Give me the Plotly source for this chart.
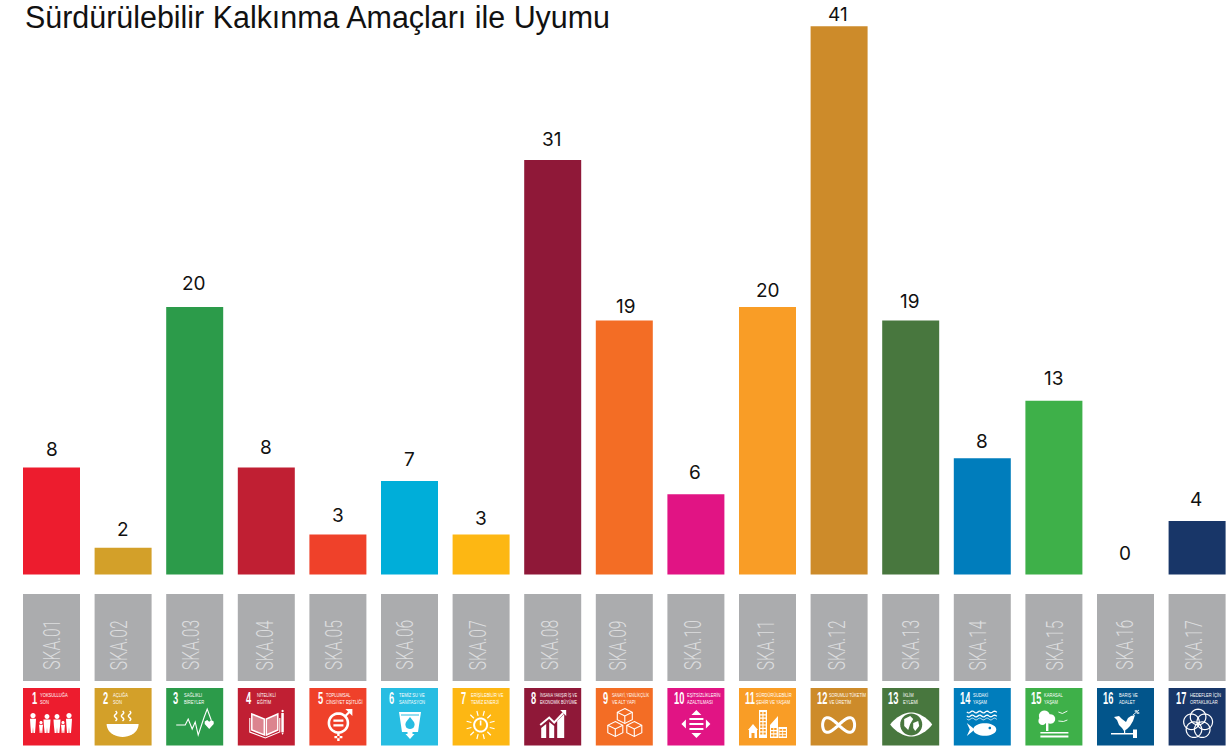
import math
import plotly.graph_objects as go

TITLE = "Sürdürülebilir Kalkınma Amaçları ile Uyumu"
categories = ["SKA.%02d" % i for i in range(1, 18)]
values = [8, 2, 20, 8, 3, 7, 3, 31, 19, 6, 20, 41, 19, 8.7, 13, 0, 4]
labels = ["8", "2", "20", "8", "3", "7", "3", "31", "19", "6", "20", "41", "19", "8", "13", "0", "4"]
label_gaps = [18, 18, 24, 20, 19, 21, 16, 21, 14, 22, 17, 12, 19, 17, 22, 21, 22]
label_shift = [0, 0, -1, 0, 0, 0, 0, -1, 2, -0.5, 0, -1, -1, 0, 0, -1, -1]
bar_colors = ["#ED1C2E", "#D3A029", "#2C9B4A", "#C01F33", "#EF412A", "#00AED9", "#FDB713", "#8F1838", "#F36D25",
              "#E11484", "#F99D26", "#CD8B2A", "#48773E", "#007DBC", "#3EB049", "#02558B", "#183668"]
tile_colors = list(bar_colors)
tile_colors[5] = "#27BDE2"
tile_line1 = ["YOKSULLUĞA", "AÇLIĞA", "SAĞLIKLI", "NİTELİKLİ", "TOPLUMSAL", "TEMİZ SU VE", "ERİŞİLEBİLİR VE",
              "İNSANA YAKIŞIR İŞ VE", "SANAYİ, YENİLİKÇİLİK", "EŞİTSİZLİKLERİN", "SÜRDÜRÜLEBİLİR", "SORUMLU TÜKETİM",
              "İKLİM", "SUDAKİ", "KARASAL", "BARIŞ VE", "HEDEFLER İÇİN"]
tile_line2 = ["SON", "SON", "BİREYLER", "EĞİTİM", "CİNSİYET EŞİTLİĞİ", "SANİTASYON", "TEMİZ ENERJİ",
              "EKONOMİK BÜYÜME", "VE ALT YAPI", "AZALTILMASI", "ŞEHİR VE YAŞAM", "VE ÜRETİM",
              "EYLEMİ", "YAŞAM", "YAŞAM", "ADALET", "ORTAKLIKLAR"]
number_x = [7, 6, 5, 6, 7, 6, 6, 5, 5, 5, 4, 4, 4, 4, 4, 4, 5]
text_x = [15, 16, 16, 17, 15, 16, 16, 14, 14, 18, 15, 16, 19, 17, 17, 20, 19]
grey_text_shift = [0, -4, -4, -1, -4, -5, -3, -3, -6, -3, -1.5, -2, 0, -4, 1.5, -1, -3]

W, H = 1226, 747
STEP = 71.6
X0 = 51.5
PX_PER_UNIT = 13.37
BASE_PX = 574.5
SANS = "Liberation Sans"


def paper(py):
    return 1 - py / H


shapes = []


def poly(pts, close=True):
    d = "M" + " L".join("%.2f,%.2f" % (x - 28.5, -y) for x, y in pts)
    return d + (" Z" if close else "")


def circ(cx, cy, rx, ry=None, n=36):
    ry = rx if ry is None else ry
    return [(cx + rx * math.cos(2 * math.pi * k / n), cy + ry * math.sin(2 * math.pi * k / n)) for k in range(n)]


def rect(x0, y0, x1, y1):
    return [(x0, y0), (x1, y0), (x1, y1), (x0, y1)]


def fill(*polys):
    return ("f", " ".join(poly(p) for p in polys))


def stroke(pts, w=1.5, close=False):
    return ("s", poly(pts, close), w)


def person(x, top, h, w):
    r = h * 0.13
    return [fill(circ(x, top + r, r, n=16),
                 [(x - w / 2, top + 2 * r + .6), (x + w / 2, top + 2 * r + .6), (x + w / 2 - .4, top + h * .62),
                  (x + w / 3, top + h), (x + .4, top + h), (x, top + h * .7), (x - .4, top + h), (x - w / 3, top + h), (x - w / 2 + .4, top + h * .62)])]


def wavy(x, y0, y1, amp=1.2):
    return [(x + amp * math.sin((y - y0) * 0.95), y) for y in [y0 + (y1 - y0) * k / 16 for k in range(17)]]


def hline_wave(x0, x1, y, amp=.9):
    return [(x, y + amp * math.sin((x - x0) * 0.85)) for x in [x0 + (x1 - x0) * k / 40 for k in range(41)]]


def cube(cx, cy, s):
    hexa = [(cx, cy - s), (cx + s, cy - s / 2), (cx + s, cy + s / 2), (cx, cy + s), (cx - s, cy + s / 2), (cx - s, cy - s / 2)]
    return [stroke(hexa, 1.1, True), stroke([(cx - s, cy - s / 2), (cx, cy), (cx + s, cy - s / 2)], 1.1), stroke([(cx, cy), (cx, cy + s)], 1.1)]


def grid_holes(x0, y0, cols, rows, w, h, gx, gy):
    return [rect(x0 + c * gx, y0 + r * gy, x0 + c * gx + w, y0 + r * gy + h) for c in range(cols) for r in range(rows)]


def ring(cx, cy, r, w):
    return [stroke(circ(cx, cy, r), w, True)]


def icon(i):
    if i == 0:
        return (person(10, 25, 20, 6) + person(18, 33, 12, 4) + person(24, 26, 19, 7) +
                person(34, 26, 19, 7) + person(40, 33, 12, 4) + person(46, 25, 20, 6))
    if i == 1:
        bowl = [(12, 36), (44, 36)] + [(28 + 16 * math.cos(t / 20 * math.pi), 36 + 13 * math.sin(t / 20 * math.pi)) for t in range(1, 20)]
        return [fill(bowl), stroke(wavy(21, 23, 33), 1.4), stroke(wavy(28, 23, 33), 1.4), stroke(wavy(35, 23, 33), 1.4)]
    if i == 2:
        heart = [(43, 41), (38.5, 36), (38.5, 33.5), (41, 32), (43, 33.8), (45, 32), (47.5, 33.5), (47.5, 36)]
        return [stroke([(10, 37), (19, 37), (22, 31), (26, 41), (29, 34), (32, 47), (38, 29), (41, 21), (45, 32)], 1.1), fill(heart)]
    if i == 3:
        return [("p", poly([(14, 26), (26.5, 31), (26.5, 47), (14, 42)])), ("p", poly([(40, 26), (28.5, 31), (28.5, 47), (40, 42)])),
                stroke([(14, 26), (26.5, 31), (26.5, 47), (14, 42)], 1.5, True), stroke([(40, 26), (28.5, 31), (28.5, 47), (40, 42)], 1.5, True),
                stroke([(12, 30), (12, 44), (27.5, 50), (42, 44), (42, 30)], 1.1), fill(rect(43.5, 25, 46, 44), [(43.5, 44.5), (46, 44.5), (44.8, 47)]), fill(circ(44.8, 23, 1.2, n=12))]
    if i == 4:
        return ring(29, 35, 9.5, 2.6) + [fill(rect(24, 31.5, 34, 33.8), rect(24, 36.2, 34, 38.5), rect(27.8, 45, 30.2, 53), rect(25, 48, 33, 50.2)),
                                        stroke([(35, 29), (41, 23)], 2.2), fill([(36, 21), (43, 21), (43, 28)])]
    if i == 5:
        glass = [(18, 24), (40, 24), (37, 44), (31.5, 44), (31.5, 46), (33.5, 46), (29, 51), (24.5, 46), (26.5, 46), (26.5, 44), (21, 44)]
        drop = [(29, 29)] + [(29 + 4.6 * math.cos(t / 10 * math.pi), 36.5 + 4.6 * math.sin(t / 10 * math.pi)) for t in range(-2, 13)]
        return [fill(glass), ("c", poly(drop)), ("c", poly(rect(20, 26.5, 38, 27.5)))]
    if i == 6:
        cx, cy = 28, 37
        out = []
        for k in range(12):
            t = k * math.pi / 6 + math.pi / 12
            out.append(stroke([(cx + 9.5 * math.cos(t), cy + 9.5 * math.sin(t)), (cx + 14.5 * math.cos(t), cy + 14.5 * math.sin(t))], 1.2))
        out += ring(cx, cy, 6.5, 2)
        out += [fill(rect(27.2, 32.5, 28.8, 37.5))]
        return out
    if i == 7:
        return [fill([(17, 40), (22, 36), (22, 50), (17, 50)], [(25, 34), (30, 38), (30, 50), (25, 50)], [(33, 33), (40, 26), (40, 50), (33, 50)]),
                stroke([(16, 37), (25, 29.5), (30, 34.5), (39, 25)], 2), fill([(36, 22), (42, 22), (42, 28)])]
    if i == 8:
        return cube(29, 28, 7.5) + cube(19.5, 41, 7.5) + cube(38.5, 41, 7.5)
    if i == 9:
        return [fill([(29, 22), (34, 27), (24, 27)], [(29, 50), (34, 45), (24, 45)], [(14, 36), (18.5, 31.5), (18.5, 40.5)], [(43, 36), (38.5, 31.5), (38.5, 40.5)],
                     rect(22, 30, 36, 32), rect(22, 35, 36, 37), rect(22, 40, 36, 42))]
    if i == 10:
        tall = [rect(20, 22, 28, 50)] + grid_holes(21.2, 24, 2, 7, 2.2, 2.2, 3.3, 3.4)
        tri = [[(31, 50), (31, 37), (39, 28), (39, 50)]] + grid_holes(32, 40, 2, 3, 2.4, 2, 3.2, 3.2)
        low = [rect(39.5, 39, 48, 50)] + grid_holes(40.5, 41, 2, 3, 2.8, 1.8, 3.6, 2.9)
        house = [[(9, 42), (14, 36), (19, 42), (18, 42), (18, 50), (15.5, 50), (15.5, 45), (12.5, 45), (12.5, 50), (10, 50), (10, 42)]]
        return [fill(*tall), fill(*tri), fill(*low), fill(*house)]
    if i == 11:
        pts = [(28 + 16 * math.cos(k * math.pi / 30), 37 + 14 * math.sin(k * math.pi / 30) * math.cos(k * math.pi / 30) * 1.05) for k in range(60)]
        return [stroke(pts, 3, True)]
    if i == 12:
        top = [(8 + 42 * k / 24, 36.5 - 12 * math.sin(math.pi * k / 24) ** .8) for k in range(25)]
        bot = [(50 - 42 * k / 24, 36.5 + 12 * math.sin(math.pi * k / 24) ** .8) for k in range(1, 24)]
        return [fill(top + bot), ("c", poly(circ(29, 36.5, 11))),
                fill([(22, 31), (28, 28), (31, 31), (28, 36), (26, 42), (22, 38)], [(31, 35), (36, 33), (37, 38), (33, 43), (31, 40)])]
    if i == 13:
        body = circ(31, 41.5, 11.5, 6.3)
        tail = [(13, 35), (21, 41.5), (13, 48), (16, 41.5)]
        return [stroke(hline_wave(13, 43, 24), 1.3), stroke(hline_wave(13, 43, 28), 1.3), stroke(hline_wave(13, 43, 31), .8),
                fill(body, circ(36, 40, 1.3, n=12)), fill(tail)]
    if i == 14:
        return [fill(circ(19, 28, 5.5, n=20)), fill(circ(25, 31, 4.8, n=20)), fill(circ(17, 33, 4, n=16)), fill(rect(20.6, 33, 23, 43)),
                fill(rect(15, 44, 43, 45.5), rect(15, 47.5, 43, 49.5)),
                stroke([(33, 24), (37, 25.5), (42, 23)], .9), stroke([(33, 33), (38, 33.5), (42, 32)], .9)]
    if i == 15:
        dove = [(17, 29), (22, 28), (25, 31), (29, 34), (31, 30), (34, 28), (38, 27), (36, 33), (33, 38), (30, 41), (27, 43), (25, 40), (22, 37), (20, 32)]
        return [fill(dove), stroke([(36, 27), (42, 22)], .9), fill(circ(39, 23, 1.6, .8, n=8), circ(41, 25, 1.6, .8, n=8)),
                fill(rect(14, 45, 36, 46.4), rect(36, 41.5, 40, 50), rect(27, 42, 28.2, 45))]
    R = 7.8
    out = []
    for k in range(5):
        t = -math.pi / 2 + k * 2 * math.pi / 5
        out += ring(29.5 + 7 * math.cos(t), 36 + 7 * math.sin(t), R, 1.2)
    return out


annotations = [dict(text=TITLE, x=0, y=paper(17.8), xref="paper", yref="paper", xshift=23, xanchor="left", yanchor="middle",
                    showarrow=False, font=dict(family=SANS, size=31, color="#111111"))]


def add_shape(cat, py, path=None, fillc=None, linec=None, lw=0, box=None):
    d = dict(type="path" if path else "rect", xref="x", yref="paper", xsizemode="pixel", ysizemode="pixel",
             xanchor=cat, yanchor=paper(py), layer="above", fillcolor=fillc or "rgba(0,0,0,0)",
             line=dict(color=linec or "rgba(0,0,0,0)", width=lw))
    if path:
        d["path"] = path
    else:
        d.update(x0=box[0], x1=box[1], y0=box[2], y1=box[3])
    shapes.append(d)


for i, cat in enumerate(categories):
    add_shape(cat, 594, fillc="#ABACAE", box=(-28.5, 28.5, -87, 0))
    add_shape(cat, 688, fillc=tile_colors[i], box=(-28.5, 28.5, -57.5, 0))
    annotations.append(dict(text=cat, x=cat, y=paper(645), xref="x", yref="paper", xshift=grey_text_shift[i], textangle=-90,
                            showarrow=False, xanchor="center", yanchor="middle",
                            font=dict(family="Roboto", weight=300, size=23, color="#DCDDDE")))
    annotations.append(dict(text=str(i + 1), x=cat, y=paper(698), xref="x", yref="paper", xshift=number_x[i] - 28.5, xanchor="left",
                            yanchor="middle", showarrow=False, font=dict(family=SANS, weight=700, size=16, color="white")))
    for line, py in ((tile_line1[i], 694.8), (tile_line2[i], 701.9)):
        annotations.append(dict(text=line, x=cat, y=paper(py), xref="x", yref="paper", xshift=text_x[i] - 28.5, xanchor="left",
                                yanchor="middle", showarrow=False, font=dict(family=SANS, size=6, color="white")))
    for item in icon(i):
        kind, path = item[0], item[1]
        if kind == "f":
            add_shape(cat, 688, path=path, fillc="white")
        elif kind == "c":
            add_shape(cat, 688, path=path, fillc=tile_colors[i])
        elif kind == "p":
            add_shape(cat, 688, path=path, fillc="rgba(255,255,255,0.45)")
        else:
            add_shape(cat, 688, path=path, linec="white", lw=item[2])
    annotations.append(dict(text=labels[i], x=cat, y=values[i], xref="x", yref="y", xshift=label_shift[i], yshift=label_gaps[i], showarrow=False,
                            xanchor="center", yanchor="middle", font=dict(family="Inter", size=19, color="#111111")))

fig = go.Figure(go.Bar(x=categories, y=values, marker=dict(color=bar_colors, line=dict(width=0)), width=57 / STEP,
                       hoverinfo="x+y"))
fig.update_layout(
    width=W, height=H, margin=dict(l=0, r=0, t=0, b=0), paper_bgcolor="white", plot_bgcolor="white", showlegend=False,
    xaxis=dict(type="category", categoryorder="array", categoryarray=categories, range=[(0 - X0) / STEP, (W - X0) / STEP], visible=False),
    yaxis=dict(range=[(BASE_PX - H) / PX_PER_UNIT, BASE_PX / PX_PER_UNIT], visible=False),
    shapes=shapes, annotations=annotations)

# The reference's typefaces are condensed; none is installed, so the glyphs are narrowed while staying real text.
CONDENSE = """
document.body.style.margin='0';
document.documentElement.style.overflow='hidden';
document.querySelectorAll('.annotation-text').forEach(function(t){
  var s=parseFloat(t.style.fontSize), w=t.getComputedTextLength(), target=null, rotated=false;
  if(s>30){target=585;}
  else if(s>20){target=50;rotated=true;}
  else if(s==16){target=w*0.58;}
  else if(s<8){target=Math.min(w*0.68,37);}
  if(target===null){return;}
  if(!rotated){
    var b=t.getBBox();
    t.setAttribute('text-anchor','start');
    t.style.textAnchor='start';
    t.setAttribute('x',b.x);
    var r=t.parentNode.querySelector('rect.bg');
    if(r){r.setAttribute('x',b.x);r.setAttribute('width',target);}
  }
  t.setAttribute('textLength',target);
  t.setAttribute('lengthAdjust','spacingAndGlyphs');
});
"""
fig.write_html("out.html", config={"displayModeBar": False}, post_script=CONDENSE)
